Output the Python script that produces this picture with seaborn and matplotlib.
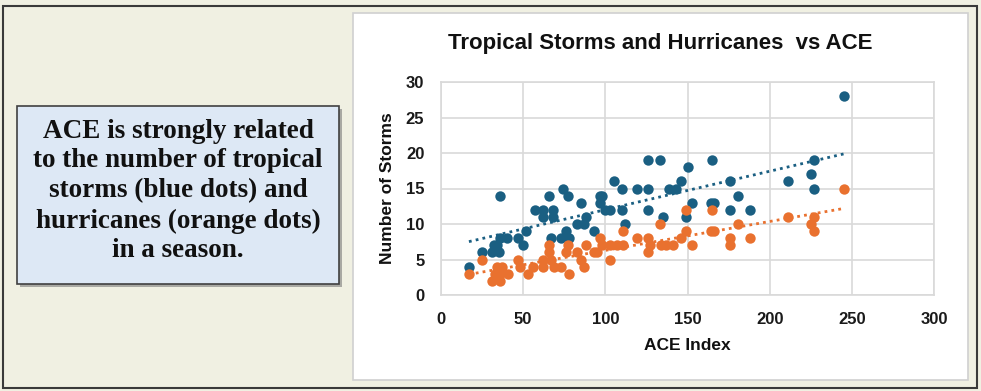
import numpy as np
import pandas as pd
import seaborn as sns
import matplotlib.pyplot as plt
from matplotlib.patches import Rectangle

# storms (blue) and hurricanes (orange) vs ACE
storm_ace = [17, 25, 31, 35, 32, 34, 36, 40, 36, 47, 50, 52, 57, 62, 68, 62, 68, 66,
             74, 77, 67, 73, 78, 76, 85, 83, 87, 88, 93, 97, 98, 97, 100, 103, 105,
             110, 110, 112, 119, 126, 126, 133, 126, 135, 139, 143, 146, 150, 153,
             149, 165, 164, 166, 176, 181, 176, 188, 211, 225, 227, 227, 245]
storms = [4, 6, 6, 6, 7, 7, 8, 8, 14, 8, 7, 9, 12, 12, 12, 11, 11, 14,
          15, 14, 8, 8, 8, 9, 13, 10, 10, 11, 9, 14, 14, 13, 12, 12, 16,
          15, 12, 10, 15, 15, 19, 19, 12, 11, 15, 15, 16, 18, 13,
          11, 19, 13, 13, 16, 14, 12, 12, 16, 17, 19, 15, 28]

hurr_ace = [17, 25, 31, 36, 33, 36, 41, 34, 37, 47, 48, 53, 56, 62, 62, 66, 66, 67,
            69, 73, 76, 77, 78, 83, 85, 87, 88, 93, 95, 97, 98, 103, 107, 111, 103,
            111, 119, 126, 126, 127, 133, 134, 137, 141, 146, 149, 149, 153, 165,
            164, 166, 176, 176, 181, 188, 211, 225, 227, 227, 245]
hurricanes = [3, 5, 2, 2, 3, 3, 3, 4, 4, 5, 4, 3, 4, 4, 5, 7, 6, 5,
              4, 4, 6, 7, 3, 6, 5, 4, 7, 6, 6, 8, 7, 7, 7, 7, 5,
              9, 8, 8, 6, 7, 10, 7, 7, 7, 8, 9, 12, 7, 12,
              9, 9, 8, 7, 10, 8, 11, 10, 11, 9, 15]

x_ticks = [0, 50, 100, 150, 200, 250, 300]
y_ticks = [0, 5, 10, 15, 20, 25, 30]

blue = "#1a5f82"
orange = "#e9712f"

sns.set_theme(style="white")
plt.rcParams['font.family'] = ['Liberation Sans', 'DejaVu Sans']

fig = plt.figure(figsize=(9.81, 3.91), dpi=100)
fig.patch.set_facecolor("#f0f0e2")

W, H = 981, 391
def px_rect(x0, y0, x1, y1, **kw):
    return Rectangle((x0 / W, 1 - y1 / H), (x1 - x0) / W, (y1 - y0) / H,
                     transform=fig.transFigure, zorder=-5, **kw)

# outer frame, chart panel, text box with shadow
fig.patches.append(px_rect(3, 6, 977, 388, fill=False, edgecolor="#3a3a3a", linewidth=1.5))
fig.patches.append(px_rect(353, 13, 968, 380, facecolor="white", edgecolor="#d0d0d0", linewidth=1.2))
fig.patches.append(px_rect(20, 109, 342, 287, facecolor="#7a7a7a", edgecolor="none", alpha=0.6))
fig.patches.append(px_rect(17, 106, 339, 284, facecolor="#dde8f5", edgecolor="#404040", linewidth=1.2))

fig.text(178 / W, 1 - 191 / H,
         "ACE is strongly related\nto the number of tropical\nstorms (blue dots) and\nhurricanes (orange dots)\nin a season.",
         ha="center", va="center", fontsize=19.5, fontweight="bold",
         family=["Liberation Serif", "DejaVu Serif"], linespacing=1.26, color="#111111")

ax = fig.add_axes([441 / W, 1 - 295 / H, (934 - 441) / W, (295 - 82) / H])
ax.set_facecolor("white")
ax.set_zorder(2)

sns.regplot(x=storm_ace, y=storms, ax=ax, ci=None, color=blue,
            scatter_kws=dict(s=56, alpha=1, linewidths=0, zorder=3),
            line_kws=dict(linestyle=(0, (1, 1.5)), linewidth=2, zorder=4))
sns.regplot(x=hurr_ace, y=hurricanes, ax=ax, ci=None, color=orange,
            scatter_kws=dict(s=56, alpha=1, linewidths=0, zorder=3),
            line_kws=dict(linestyle=(0, (1, 1.5)), linewidth=2, zorder=4))

ax.set_xlim(0, 300)
ax.set_ylim(0, 30)
ax.set_xticks(x_ticks)
ax.set_yticks(y_ticks)
ax.grid(True, color="#d9d9d9", linewidth=1.2)
ax.set_axisbelow(True)
for s in ax.spines.values():
    s.set_color("#d9d9d9")
    s.set_linewidth(1.2)
ax.tick_params(length=0, pad=12, labelsize=12, labelcolor="#1a1a1a")
for lab in ax.get_xticklabels() + ax.get_yticklabels():
    lab.set_fontweight("bold")

ax.set_xlabel("ACE Index", fontsize=12.5, fontweight="bold", color="#111111", labelpad=8)
ax.set_ylabel("Number of Storms", fontsize=12.5, fontweight="bold", color="#111111", labelpad=8)

fig.text(660 / W, 1 - 44 / H, "Tropical Storms and Hurricanes  vs ACE",
         ha="center", va="center", fontsize=16, fontweight="bold", color="#111111")

fig.savefig("out.png", dpi=100, facecolor=fig.get_facecolor())
